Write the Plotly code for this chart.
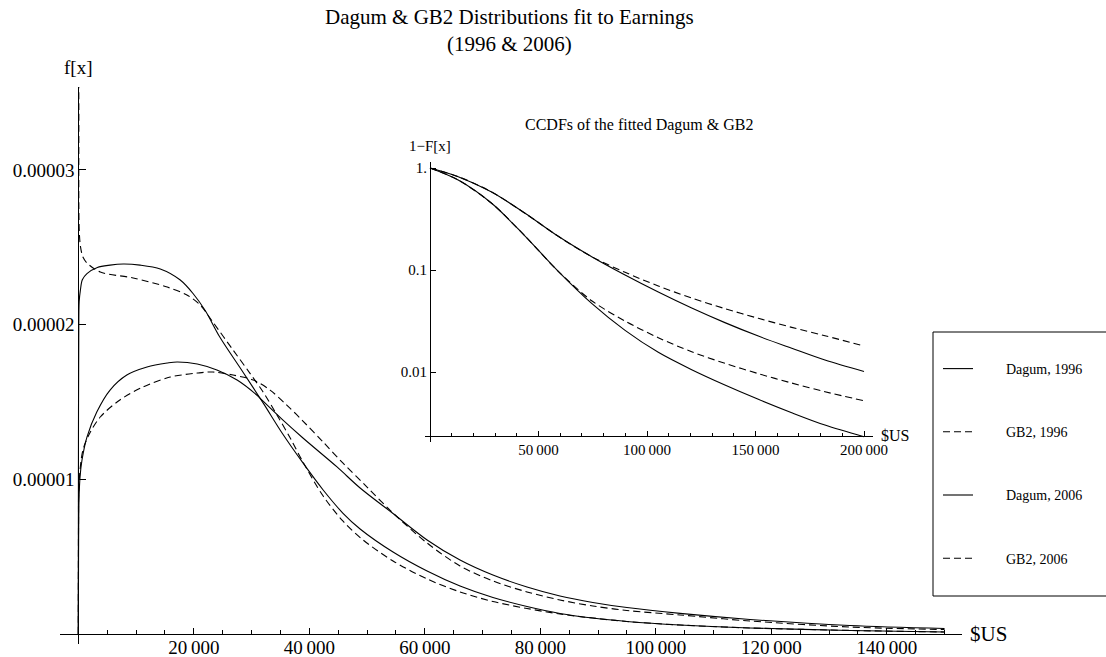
import plotly.graph_objects as go

# ------------------------------------------------------------------
# DATA
# ------------------------------------------------------------------
# Main panel: fitted densities f[x], x in $US
dagum96_x = [0, 30, 80, 150, 350, 700, 1500, 3300, 5500, 7800, 10700, 14200, 17600,
             19900, 22000, 24500, 28500, 32000, 35400, 38900, 42400, 45800, 48800,
             54500, 60400, 66100, 71800, 77700, 83400, 89100, 95000, 104200, 116300,
             133600, 150000]
dagum96_y = [0, 1.30e-5, 1.90e-5, 2.15e-5, 2.22e-5, 2.29e-5, 2.33e-5, 2.37e-5, 2.385e-5,
             2.392e-5, 2.385e-5, 2.36e-5, 2.29e-5, 2.20e-5, 2.09e-5, 1.92e-5, 1.694e-5,
             1.494e-5, 1.293e-5, 1.106e-5, 0.931e-5, 0.782e-5, 0.679e-5, 0.530e-5,
             0.407e-5, 0.310e-5, 0.236e-5, 0.178e-5, 0.133e-5, 0.103e-5, 0.081e-5,
             0.058e-5, 0.039e-5, 0.023e-5, 0.013e-5]

gb2_96_x = [40, 90, 170, 400, 800, 1500, 3800, 9500, 15400, 18800, 21100, 23300, 26800,
            29700, 32000, 34400, 36700, 38900, 42400, 45800, 49300, 54500, 60400, 66100,
            71800, 77700, 83400, 89100, 95000, 104200, 116300, 133600, 150000]
gb2_96_y = [4.5e-5, 3.4e-5, 2.60e-5, 2.50e-5, 2.437e-5, 2.399e-5, 2.34e-5, 2.302e-5,
            2.243e-5, 2.192e-5, 2.127e-5, 2.017e-5, 1.836e-5, 1.687e-5, 1.565e-5,
            1.416e-5, 1.267e-5, 1.112e-5, 0.892e-5, 0.731e-5, 0.608e-5, 0.472e-5,
            0.356e-5, 0.272e-5, 0.210e-5, 0.165e-5, 0.129e-5, 0.103e-5, 0.081e-5,
            0.058e-5, 0.039e-5, 0.023e-5, 0.013e-5]

dagum06_x = [0, 40, 120, 300, 640, 1500, 3200, 5500, 8400, 11900, 15400, 17100, 20600,
             24000, 27500, 30900, 32000, 35400, 38900, 44800, 48800, 54500, 60400, 66100,
             71800, 77700, 83400, 89100, 95000, 104200, 116300, 133600, 150000]
dagum06_y = [0, 0.48e-5, 0.866e-5, 1.015e-5, 1.125e-5, 1.273e-5, 1.435e-5, 1.577e-5,
             1.674e-5, 1.726e-5, 1.752e-5, 1.759e-5, 1.746e-5, 1.707e-5, 1.642e-5,
             1.545e-5, 1.505e-5, 1.384e-5, 1.267e-5, 1.080e-5, 0.944e-5, 0.779e-5,
             0.608e-5, 0.478e-5, 0.381e-5, 0.304e-5, 0.246e-5, 0.204e-5, 0.171e-5,
             0.133e-5, 0.094e-5, 0.055e-5, 0.036e-5]

gb2_06_x = [0, 40, 120, 800, 2000, 3800, 7200, 11200, 15900, 20600, 23300, 26800, 30300,
            33200, 36100, 38900, 42400, 45800, 50000, 54500, 60400, 66100, 71800, 77700,
            83400, 89100, 95000, 104200, 116300, 133600, 150000]
gb2_06_y = [0, 0.70e-5, 0.97e-5, 1.189e-5, 1.299e-5, 1.403e-5, 1.513e-5, 1.597e-5,
            1.661e-5, 1.687e-5, 1.694e-5, 1.674e-5, 1.642e-5, 1.577e-5, 1.480e-5,
            1.377e-5, 1.241e-5, 1.106e-5, 0.950e-5, 0.782e-5, 0.588e-5, 0.440e-5,
            0.343e-5, 0.272e-5, 0.220e-5, 0.181e-5, 0.152e-5, 0.123e-5, 0.084e-5,
            0.045e-5, 0.029e-5]

# Inset: complementary CDFs 1-F[x]
ccdf_x = [0, 13000, 28400, 43800, 59100, 74500, 89900, 105200, 120600, 135900,
          151300, 166700, 182000, 200000]
ccdf_dagum96 = [1.0, 0.762, 0.451, 0.215, 0.0971, 0.0471, 0.0256, 0.0156, 0.01054,
                0.00746, 0.00540, 0.00399, 0.00302, 0.00232]
ccdf_gb2_96 = [1.0, 0.762, 0.451, 0.215, 0.0971, 0.0500, 0.0316, 0.0217, 0.0158,
               0.01217, 0.00964, 0.00780, 0.00641, 0.00523]
ccdf_dagum06 = [1.0, 0.822, 0.582, 0.360, 0.214, 0.135, 0.0893, 0.0608, 0.0424,
                0.0305, 0.0225, 0.0171, 0.0131, 0.0101]
ccdf_gb2_06 = [1.0, 0.822, 0.582, 0.360, 0.214, 0.135, 0.0949, 0.0697, 0.0531,
               0.0418, 0.0336, 0.0274, 0.0227, 0.0180]

# Tick labels
main_x_tickvals = [20000, 40000, 60000, 80000, 100000, 120000, 140000]
main_x_ticktext = ["20\u2009000", "40\u2009000", "60\u2009000", "80\u2009000",
                   "100\u2009000", "120\u2009000", "140\u2009000"]
main_y_tickvals = [1e-5, 2e-5, 3e-5]
main_y_ticktext = ["0.00001", "0.00002", "0.00003"]
inset_x_tickvals = [50000, 100000, 150000, 200000]
inset_x_ticktext = ["50\u2009000", "100\u2009000", "150\u2009000", "200\u2009000"]
inset_y_tickvals = [1, 0.1, 0.01]
inset_y_ticktext = ["1.", "0.1", "0.01"]

series_names = ["Dagum, 1996", "GB2, 1996", "Dagum, 2006", "GB2, 2006"]

# ------------------------------------------------------------------
# LAYOUT GEOMETRY (pixels)
# ------------------------------------------------------------------
W, H = 1106, 657
PL, PR, PT, PB = 60, 962, 87, 644          # main plot box
PW, PH = PR - PL, PB - PT
SERIF = "Liberation Serif, Times New Roman, serif"
DASH = "7px,4px"
LW = 1.1
LEGEND_PAD = "\u2003\u2003"   # gap between legend line sample and its text


def px_x(p):   # pixel -> paper x
    return (p - PL) / PW


def px_y(p):   # pixel -> paper y
    return (PB - p) / PH


xmin, xmax = -3169, 153022
ymin, ymax = -6.47e-7, 3.5366e-5

# inset box
in_dom_x = [px_x(425), px_x(873)]
in_dom_y = [px_y(442), px_y(162)]
x2min, x2max = -2304, 204147
y2min, y2max = -2.686, 0.0588
y2_axis_log = -2.627

fig = go.Figure()

main_series = [(dagum96_x, dagum96_y, "solid"), (gb2_96_x, gb2_96_y, DASH),
               (dagum06_x, dagum06_y, "solid"), (gb2_06_x, gb2_06_y, DASH)]
for i, (xs, ys, d) in enumerate(main_series):
    fig.add_trace(go.Scatter(
        x=xs, y=ys, mode="lines", name=LEGEND_PAD + series_names[i],
        legendgroup=f"g{i}",
        line=dict(color="black", width=LW, dash=d, shape="spline", smoothing=0.9),
        xaxis="x", yaxis="y", hoverinfo="skip"))

inset_series = [(ccdf_dagum96, "solid"), (ccdf_gb2_96, DASH),
                (ccdf_dagum06, "solid"), (ccdf_gb2_06, DASH)]
for i, (ys, d) in enumerate(inset_series):
    fig.add_trace(go.Scatter(
        x=ccdf_x, y=ys, mode="lines", name=series_names[i], showlegend=False,
        line=dict(color="black", width=LW, dash=d, shape="spline", smoothing=0.9),
        xaxis="x2", yaxis="y2", hoverinfo="skip"))

tick_common = dict(showgrid=False, zeroline=False, showline=True, linecolor="black",
                   linewidth=1, ticks="inside", tickcolor="black", tickwidth=1,
                   tickmode="array")

fig.update_layout(
    width=W, height=H,
    margin=dict(l=PL, r=W - PR, t=PT, b=H - PB, autoexpand=False),
    paper_bgcolor="white", plot_bgcolor="rgba(0,0,0,0)",
    font=dict(family=SERIF, color="black"),
    xaxis=dict(domain=[0, 1], range=[xmin, xmax], anchor="free",
               position=(0 - ymin) / (ymax - ymin),
               tickvals=main_x_tickvals, ticktext=main_x_ticktext, ticklen=6,
               ticklabelstandoff=-4,
               tickfont=dict(family=SERIF, size=19, color="black"),
               minor=dict(dtick=5000, tick0=0, ticks="inside", ticklen=4,
                          tickcolor="black", showgrid=False),
               **tick_common),
    yaxis=dict(domain=[0, 1], range=[ymin, ymax], anchor="free",
               position=(0 - xmin) / (xmax - xmin),
               tickvals=main_y_tickvals, ticktext=main_y_ticktext, ticklen=7,
               tickfont=dict(family=SERIF, size=19, color="black"),
               **tick_common),
    xaxis2=dict(domain=in_dom_x, range=[x2min, x2max], anchor="free",
                position=in_dom_y[0] + (y2_axis_log - y2min) / (y2max - y2min)
                * (in_dom_y[1] - in_dom_y[0]),
                tickvals=inset_x_tickvals, ticktext=inset_x_ticktext, ticklen=5,
                tickfont=dict(family=SERIF, size=15, color="black"),
                minor=dict(dtick=10000, tick0=0, ticks="inside", ticklen=3,
                           tickcolor="black", showgrid=False),
                **tick_common),
    yaxis2=dict(domain=in_dom_y, type="log", range=[y2min, y2max], anchor="free",
                position=in_dom_x[0] + (0 - x2min) / (x2max - x2min)
                * (in_dom_x[1] - in_dom_x[0]),
                tickvals=inset_y_tickvals, ticktext=inset_y_ticktext, ticklen=5,
                tickfont=dict(family=SERIF, size=15, color="black"),
                **tick_common),
    legend=dict(x=px_x(938), y=px_y(353), xanchor="left", yanchor="top",
                bgcolor="rgba(0,0,0,0)", borderwidth=0, itemwidth=30,
                tracegroupgap=42, traceorder="grouped",
                font=dict(family=SERIF, size=14, color="black")),
    shapes=[dict(type="rect", xref="paper", yref="paper",
                 x0=px_x(933), x1=px_x(1125), y0=px_y(596), y1=px_y(332),
                 line=dict(color="black", width=1), fillcolor="rgba(0,0,0,0)")],
    annotations=[
        dict(text="Dagum & GB2 Distributions fit to Earnings<br>(1996 & 2006)",
             xref="paper", x=px_x(509), xanchor="center",
             yref="paper", y=px_y(3), yanchor="top", showarrow=False,
             font=dict(family=SERIF, size=21, color="black")),
        dict(text="f[x]", xref="x", x=0, yref="paper", y=1, yanchor="middle",
             yshift=20, showarrow=False, font=dict(family=SERIF, size=19)),
        dict(text="$US", xref="x", x=xmax, yref="y", y=0, xanchor="left",
             yanchor="middle", xshift=6, showarrow=False,
             font=dict(family=SERIF, size=21)),
        dict(text="CCDFs of the fitted Dagum & GB2", xref="paper", x=px_x(523),
             xanchor="left", yref="paper", y=px_y(125), yanchor="middle",
             showarrow=False, font=dict(family=SERIF, size=16)),
        dict(text="1\u2212F[x]", xref="x2", x=0, yref="paper", y=in_dom_y[1],
             yanchor="middle", yshift=16, showarrow=False,
             font=dict(family=SERIF, size=15)),
        dict(text="$US", xref="x2", x=x2max, yref="y2", y=y2_axis_log,
             xanchor="left", yanchor="middle", xshift=6, showarrow=False,
             font=dict(family=SERIF, size=16)),
    ],
)

fig.write_html("out.html", config={"displayModeBar": False},
               post_script="document.body.style.margin='0';")
